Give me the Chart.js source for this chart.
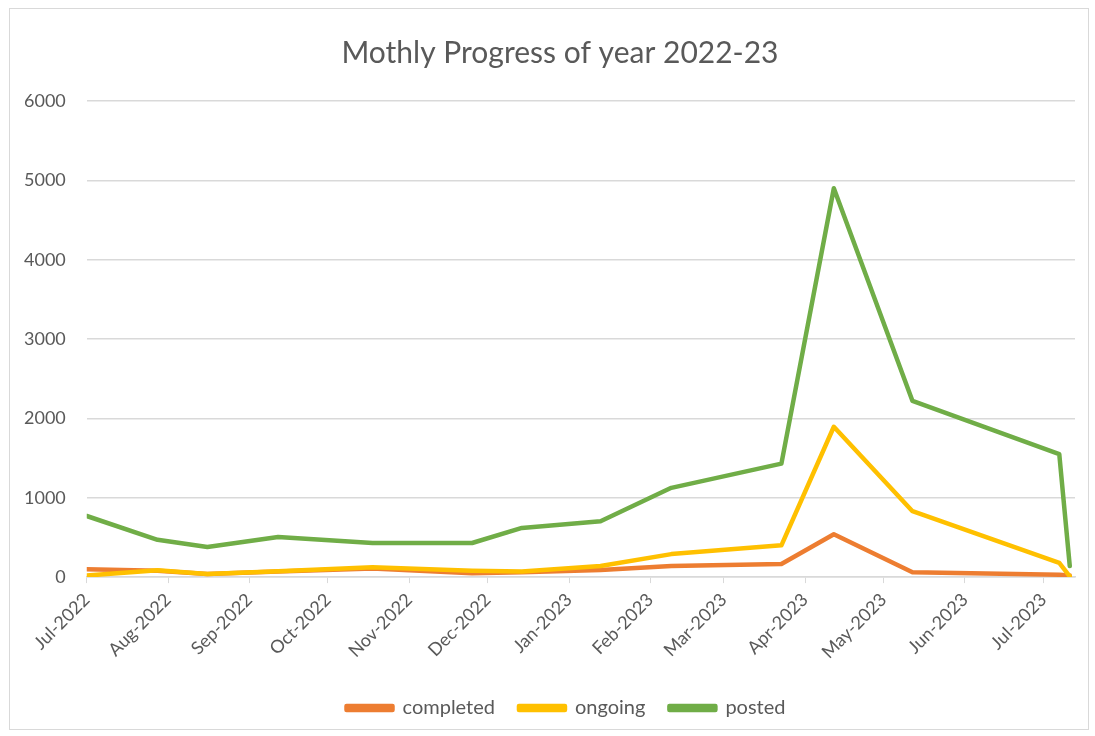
<!DOCTYPE html>
<html>
<head>
<meta charset="utf-8">
<script src="https://cdn.jsdelivr.net/npm/chart.js@4"></script>
<style>
  body { margin: 0; background: #ffffff; }
  #frame { position: absolute; left: 9px; top: 8px; width: 1078px; height: 720px; border: 1px solid #d9d9d9; }
  #wrap { position: absolute; left: 0; top: 0; width: 1095px; height: 736px; }
</style>
</head>
<body>
<div id="frame"></div>
<div id="wrap"><canvas id="myChart"></canvas></div>
<script>
// dates where a value was recorded (date axis, like excel)
var pointDates = ['2022-07-01', '2022-07-28', '2022-08-16', '2022-09-12', '2022-10-18', '2022-11-25', '2022-12-14',
                  '2023-01-13', '2023-02-09', '2023-03-23', '2023-04-12', '2023-05-12', '2023-07-07', '2023-07-11'];

var completedValues = [100, 80, 40, 70, 110, 50, 60, 90, 140, 165, 540, 60, 30, 20];
var ongoingValues   = [20, 85, 40, 75, 125, 80, 70, 140, 290, 400, 1895, 830, 180, 10];
var postedValues    = [770, 470, 380, 505, 430, 430, 620, 705, 1125, 1430, 4900, 2220, 1550, 140];

// month ticks on the x axis
var tickDates  = ['2022-07-01', '2022-08-01', '2022-09-01', '2022-10-01', '2022-11-01', '2022-12-01',
                  '2023-01-01', '2023-02-01', '2023-03-01', '2023-04-01', '2023-05-01', '2023-06-01', '2023-07-01'];
var tickLabels = ['Jul-2022', 'Aug-2022', 'Sep-2022', 'Oct-2022', 'Nov-2022', 'Dec-2022',
                  'Jan-2023', 'Feb-2023', 'Mar-2023', 'Apr-2023', 'May-2023', 'Jun-2023', 'Jul-2023'];

var textColor = '#595959';
var gridColor = '#d9d9d9';
var fontName = 'Lato, "Open Sans", sans-serif';

// days counted from the first date, so the linear axis behaves like a date axis
function dayOf(str) {
  var p = str.split('-');
  var start = Date.UTC(2022, 6, 1);
  return Math.round((Date.UTC(+p[0], +p[1] - 1, +p[2]) - start) / 86400000);
}

function toPoints(values) {
  return values.map(function (v, i) { return { x: dayOf(pointDates[i]), y: v }; });
}

var tickDays = tickDates.map(dayOf);
var lastDay = dayOf(pointDates[pointDates.length - 1]);

function lineSet(label, values, color, order) {
  return {
    label: label,
    data: toPoints(values),
    borderColor: color,
    backgroundColor: color,
    borderWidth: 4.5,
    pointRadius: 0,
    tension: 0,
    fill: false,
    borderJoinStyle: 'round',
    borderCapStyle: 'round',
    order: order
  };
}

// title and legend sit a bit right of the canvas centre in the original
var shiftBlocks = {
  id: 'shiftBlocks',
  afterLayout: function (chart) {
    chart.titleBlock.left += 42;
    chart.legend.left += 54;
  }
};

const ctx = document.getElementById('myChart');
const myChart = new Chart(ctx, {
  type: 'line',
  data: {
    datasets: [
      lineSet('completed', completedValues, '#ed7d31', 3),
      lineSet('ongoing', ongoingValues, '#ffc000', 2),
      lineSet('posted', postedValues, '#70ad47', 1)
    ]
  },
  plugins: [shiftBlocks],
  options: {
    responsive: true,
    maintainAspectRatio: false,
    animation: false,
    layout: { padding: { left: 3, right: 20, top: 14, bottom: 8 } },
    plugins: {
      title: {
        display: true,
        text: 'Mothly Progress of year 2022-23',
        color: textColor,
        font: { family: fontName, size: 30, weight: 'normal' },
        padding: { top: 21, bottom: 30 }
      },
      legend: {
        position: 'bottom',
        labels: {
          color: textColor,
          font: { family: fontName, size: 20 },
          boxWidth: 46,
          boxHeight: 4,
          padding: 24,
          sort: function (a, b) { return a.datasetIndex - b.datasetIndex; }
        }
      },
      tooltip: { enabled: false }
    },
    scales: {
      x: {
        type: 'linear',
        min: 0,
        max: lastDay + 2,
        afterBuildTicks: function (axis) {
          axis.ticks = tickDays.map(function (d) { return { value: d }; });
        },
        afterFit: function (axis) {
          // first rotated label has room on the left already, don't push the plot
          axis.paddingLeft = 10;
          axis.height += 5;
        },
        ticks: {
          color: textColor,
          font: { family: fontName, size: 18 },
          minRotation: 45,
          maxRotation: 45,
          padding: 6,
          callback: function (value) {
            var i = tickDays.indexOf(value);
            return i >= 0 ? tickLabels[i] : '';
          }
        },
        grid: { drawOnChartArea: false, drawTicks: true, tickLength: 6, color: gridColor },
        border: { display: true, color: gridColor, width: 1.5 }
      },
      y: {
        min: 0,
        max: 6000,
        ticks: {
          stepSize: 1000,
          color: textColor,
          font: { family: fontName, size: 18 },
          padding: 21,
          callback: function (value) { return String(value); }
        },
        grid: { color: gridColor, lineWidth: 1.5, drawTicks: false },
        border: { display: false }
      }
    }
  }
});
</script>
</body>
</html>
